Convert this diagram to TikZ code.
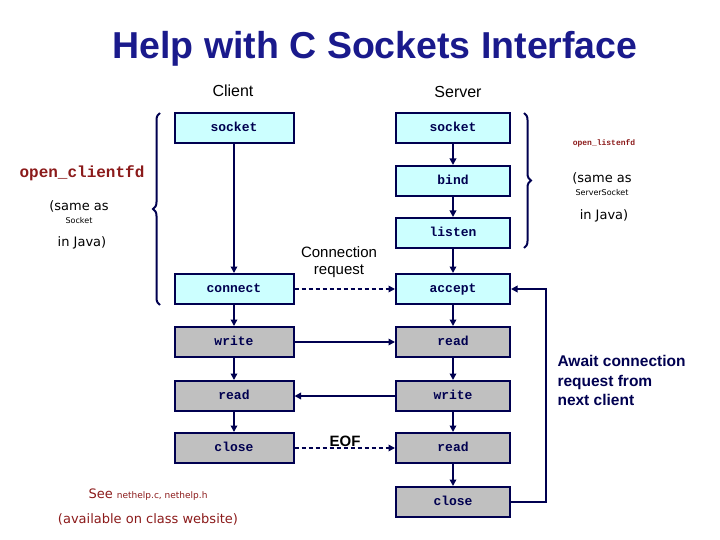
\documentclass[tikz,border=0pt]{standalone}
\usepackage{fontspec}
\setmainfont{Liberation Sans}
\setsansfont{Liberation Sans}
\setmonofont{Liberation Mono}
\newfontfamily\verd{DejaVu Sans}
\usetikzlibrary{arrows.meta,decorations.pathreplacing}
\definecolor{navy}{HTML}{000050}
\definecolor{titleblue}{HTML}{1A1A8C}
\definecolor{cyanbox}{HTML}{CCFFFF}
\definecolor{graybox}{HTML}{C0C0C0}
\definecolor{darkred}{HTML}{8B1A1A}
\tikzset{
  fbox/.style={draw=navy,line width=2pt,minimum width=119pt,minimum height=30pt,inner sep=0pt,text height=1.6ex,text depth=0.35ex,font=\ttfamily\bfseries\fontsize{13}{15}\selectfont,text=navy},
  cbox/.style={fbox,fill=cyanbox},
  gbox/.style={fbox,fill=graybox},
  conn/.style={draw=navy,line width=2pt,-{Triangle[length=6.5pt,width=6.5pt]}},
  dconn/.style={conn,dashed,dash pattern=on 4pt off 3pt},
  brc/.style={draw=navy,line width=2pt,decorate,decoration={brace,amplitude=7pt}}
}
\begin{document}
\begin{tikzpicture}[x=1pt,y=-1pt]
\useasboundingbox (0,0) rectangle (720,540);
\node[font=\bfseries\fontsize{37.5}{40}\selectfont,text=titleblue] (title) at (375,49) {Help with C Sockets Interface};
\node[font=\fontsize{16}{18}\selectfont] (client) at (233,91) {Client};
\node[font=\fontsize{16}{18}\selectfont] (server) at (458,92) {Server};
% client boxes
\node[cbox] (csock) at (234,128) {socket};
\node[cbox] (cconn) at (234,289) {connect};
\node[gbox] (cwrite) at (234,342) {write};
\node[gbox] (cread) at (234,396) {read};
\node[gbox] (cclose) at (234,448) {close};
% server boxes
\node[cbox,minimum width=114pt] (ssock) at (453,128) {socket};
\node[cbox,minimum width=114pt] (sbind) at (453,181) {bind};
\node[cbox,minimum width=114pt] (slisten) at (453,233) {listen};
\node[cbox,minimum width=114pt] (saccept) at (453,289) {accept};
\node[gbox,minimum width=114pt] (sread) at (453,342) {read};
\node[gbox,minimum width=114pt] (swrite) at (453,396) {write};
\node[gbox,minimum width=114pt] (sread2) at (453,448) {read};
\node[gbox,minimum width=114pt] (sclose) at (453,502) {close};
% arrows client
\draw[conn] (csock) -- (cconn);
\draw[conn] (cconn) -- (cwrite);
\draw[conn] (cwrite) -- (cread);
\draw[conn] (cread) -- (cclose);
% arrows server
\draw[conn] (ssock) -- (sbind);
\draw[conn] (sbind) -- (slisten);
\draw[conn] (slisten) -- (saccept);
\draw[conn] (saccept) -- (sread);
\draw[conn] (sread) -- (swrite);
\draw[conn] (swrite) -- (sread2);
\draw[conn] (sread2) -- (sclose);
% cross
\draw[dconn] (cconn) -- (saccept);
\draw[conn] (cwrite) -- (sread);
\draw[conn] (swrite) -- (cread);
\draw[dconn] (cclose) -- (sread2);
\coordinate (lp1) at (546,502);
\coordinate (lp2) at (546,289);
\draw[conn] (sclose.east) -- (lp1) -- (lp2) -- (saccept.east);
\node[font=\fontsize{15}{17}\selectfont,align=center] (creq) at (339,262) {Connection\\request};
\node[font=\bfseries\fontsize{15}{17}\selectfont] (eof) at (345,441) {EOF};
% braces
\coordinate (lb1) at (160,305);
\coordinate (lb2) at (160,113);
\draw[brc] (lb1) -- (lb2);
\coordinate (rb1) at (524,113);
\coordinate (rb2) at (524,248);
\draw[brc] (rb1) -- (rb2);
% left annotations
\node[font=\ttfamily\bfseries\fontsize{16}{18}\selectfont,text=darkred] (ocfd) at (82,173) {open\_clientfd};
\node[font=\verd\fontsize{13}{15}\selectfont] (sa1) at (79,206) {(same as};
\node[font=\verd\fontsize{8}{9}\selectfont] (sk1) at (79,221) {Socket};
\node[font=\verd\fontsize{13}{15}\selectfont] (ij1) at (82,243) {in Java)};
% right annotations
\node[font=\ttfamily\bfseries\fontsize{8}{9}\selectfont,text=darkred] (olfd) at (604,143) {open\_listenfd};
\node[font=\verd\fontsize{13}{15}\selectfont] (sa2) at (602,178) {(same as};
\node[font=\verd\fontsize{8}{9}\selectfont] (sk2) at (602,193) {ServerSocket};
\node[font=\verd\fontsize{13}{15}\selectfont] (ij2) at (604,216) {in Java)};
% await
\node[font=\bfseries\fontsize{15.5}{19.5}\selectfont,text=navy,align=left,anchor=north west] (await) at (554,352) {Await connection\\request from\\next client};
% see
\node[font=\verd\fontsize{13}{15}\selectfont,text=darkred] (see) at (148,495) {See {\fontsize{9}{10}\selectfont nethelp.c, nethelp.h}};
\node[font=\verd\fontsize{13}{15}\selectfont,text=darkred] (avail) at (148,519) {(available on class website)};
\end{tikzpicture}
\end{document}
